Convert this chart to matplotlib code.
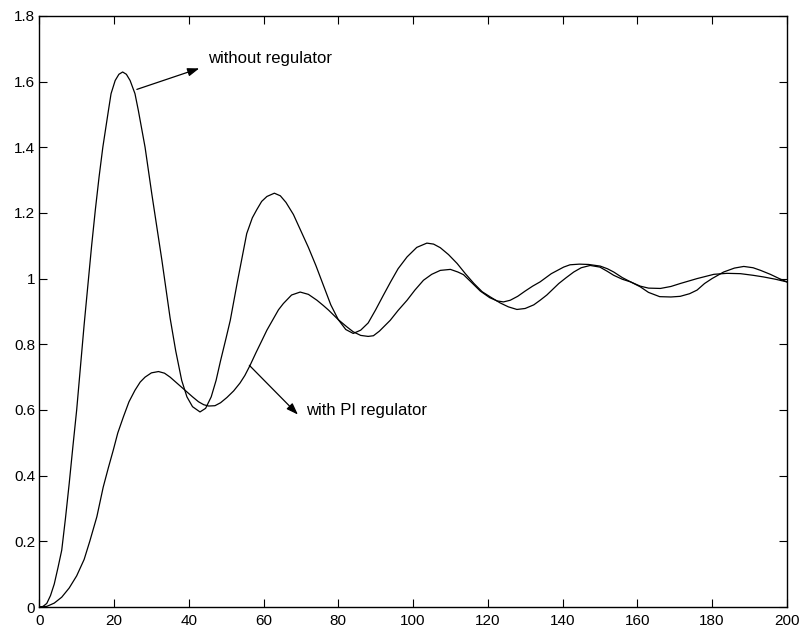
import matplotlib
matplotlib.use("Agg")
import matplotlib.pyplot as plt

# Response without regulator
t_without = [0, 1, 2, 3, 4, 5, 6, 7, 8, 9, 10, 11, 12, 13, 14, 15, 16, 17, 18.5,
             19.2, 20.3, 21.3, 22.3, 23.3, 24.3, 25.6, 26.5, 28.3, 30.1, 32.8,
             35, 36.5, 38.1, 39.5, 41, 43, 44.5, 46, 47.3, 48.5, 50, 51.1, 53,
             55.5, 57, 58.2, 59.5, 60.9, 62.9, 64.5, 66, 68, 70, 72, 74, 76, 78,
             80, 82, 84, 86, 88, 90, 92, 94, 96, 98.4, 101, 103.7, 105.5, 107.3,
             109.5, 111.8, 114, 116.3, 118.5, 120.7, 123.3, 125.5, 127.8, 130,
             132.3, 134, 135.8, 139, 141, 143, 145, 147.4, 150, 152, 153.7, 156,
             158.2, 160.8, 163, 166, 169, 171.5, 174, 176, 178, 180, 183.1, 186,
             188.5, 191, 193, 195.6, 198, 200]
y_without = [0, 0.002, 0.011, 0.035, 0.07, 0.12, 0.173, 0.27, 0.376, 0.49, 0.60,
             0.73, 0.86, 0.98, 1.10, 1.21, 1.31, 1.40, 1.512, 1.563, 1.603, 1.622,
             1.629, 1.622, 1.603, 1.563, 1.512, 1.40, 1.258, 1.056, 0.88, 0.78,
             0.69, 0.64, 0.61, 0.594, 0.605, 0.64, 0.69, 0.75, 0.82, 0.873, 0.99,
             1.137, 1.185, 1.21, 1.235, 1.25, 1.26, 1.252, 1.232, 1.195, 1.145,
             1.095, 1.04, 0.98, 0.92, 0.875, 0.845, 0.833, 0.843, 0.865, 0.905,
             0.948, 0.99, 1.03, 1.066, 1.095, 1.108, 1.105, 1.094, 1.073, 1.046,
             1.015, 0.985, 0.96, 0.944, 0.926, 0.914, 0.906, 0.909, 0.92, 0.934,
             0.95, 0.985, 1.003, 1.02, 1.033, 1.04, 1.035, 1.022, 1.01, 0.998,
             0.99, 0.975, 0.958, 0.945, 0.944, 0.946, 0.954, 0.965, 0.985, 1.0,
             1.02, 1.032, 1.037, 1.033, 1.025, 1.013, 1.0, 0.99]

# Response with PI regulator
t_pi = [0, 2, 4, 6, 8, 10, 12, 13.5, 15.4, 17.1, 18.5, 19.8, 21, 22.5, 24,
        25.6, 27, 28.3, 30, 31.9, 33.5, 35, 37, 39, 41, 42.6, 44, 45.3, 47, 48.5,
        50.2, 52, 53.7, 55, 56.4, 58, 59.5, 60.9, 62.5, 64, 65.3, 67.5, 69.8, 72,
        74.3, 76, 77.4, 80, 82.3, 84, 86, 88, 89.4, 91, 93.9, 96, 98.4, 100.5,
        102.8, 105, 107.3, 110, 112, 113.5, 115.5, 118, 120.5, 122.5, 124.2, 126,
        128, 130, 132, 134, 137, 140.3, 142, 144.5, 147, 150.1, 152, 153.7, 156,
        158.2, 160.8, 163, 166.2, 169, 171.5, 176, 180.5, 184, 187.6, 191, 193.8,
        197, 200]
y_pi = [0, 0.002, 0.012, 0.03, 0.058, 0.095, 0.145, 0.2, 0.275, 0.365,
        0.425, 0.478, 0.53, 0.579, 0.625, 0.66, 0.685, 0.70, 0.713, 0.717, 0.712,
        0.70, 0.68, 0.66, 0.64, 0.625, 0.616, 0.612, 0.613, 0.622, 0.638, 0.658,
        0.682, 0.705, 0.736, 0.775, 0.81, 0.843, 0.875, 0.905, 0.924, 0.95,
        0.959, 0.952, 0.934, 0.918, 0.904, 0.875, 0.853, 0.838, 0.827, 0.824,
        0.826, 0.84, 0.873, 0.903, 0.934, 0.965, 0.995, 1.013, 1.025, 1.028,
        1.02, 1.012, 0.99, 0.962, 0.942, 0.932, 0.929, 0.934, 0.946, 0.962,
        0.977, 0.99, 1.015, 1.035, 1.042, 1.044, 1.043, 1.038, 1.03, 1.02, 1.003,
        0.99, 0.977, 0.971, 0.97, 0.976, 0.985, 1.0, 1.013, 1.016, 1.015, 1.01,
        1.005, 0.998, 0.99]

x_ticks = [0, 20, 40, 60, 80, 100, 120, 140, 160, 180, 200]
x_ticklabels = ["0", "20", "40", "60", "80", "100", "120", "140", "160", "180", "200"]
y_ticks = [0, 0.2, 0.4, 0.6, 0.8, 1.0, 1.2, 1.4, 1.6, 1.8]
y_ticklabels = ["0", "0.2", "0.4", "0.6", "0.8", "1", "1.2", "1.4", "1.6", "1.8"]

plt.rcParams["font.family"] = ["Liberation Sans", "DejaVu Sans"]

fig = plt.figure(figsize=(8.02, 6.33), dpi=100)
ax = fig.add_axes([0.049, 0.041, 0.932, 0.934])

ax.plot(t_without, y_without, color="black", lw=0.9)
ax.plot(t_pi, y_pi, color="black", lw=0.9)

ax.set_xlim(0, 200)
ax.set_ylim(0, 1.8)
ax.set_xticks(x_ticks)
ax.set_xticklabels(x_ticklabels)
ax.set_yticks(y_ticks)
ax.set_yticklabels(y_ticklabels)
ax.tick_params(direction="in", top=True, right=True, length=6, width=0.8,
               labelsize=11, colors="black")
ax.tick_params(axis="x", pad=5)
ax.tick_params(axis="y", pad=3)
for s in ax.spines.values():
    s.set_linewidth(1.0)
    s.set_color("black")

arrow = dict(arrowstyle="-|>,head_length=0.7,head_width=0.25", color="black",
             lw=0.9, shrinkA=0, shrinkB=0)
ax.annotate("", xy=(42.8, 1.64), xytext=(26.1, 1.576), arrowprops=arrow)
ax.text(45.2, 1.67, "without regulator", fontsize=12, va="center", ha="left")
ax.annotate("", xy=(69.2, 0.586), xytext=(56.2, 0.736), arrowprops=arrow)
ax.text(71.4, 0.597, "with PI regulator", fontsize=12, va="center", ha="left")

fig.savefig("out.png", dpi=100)
